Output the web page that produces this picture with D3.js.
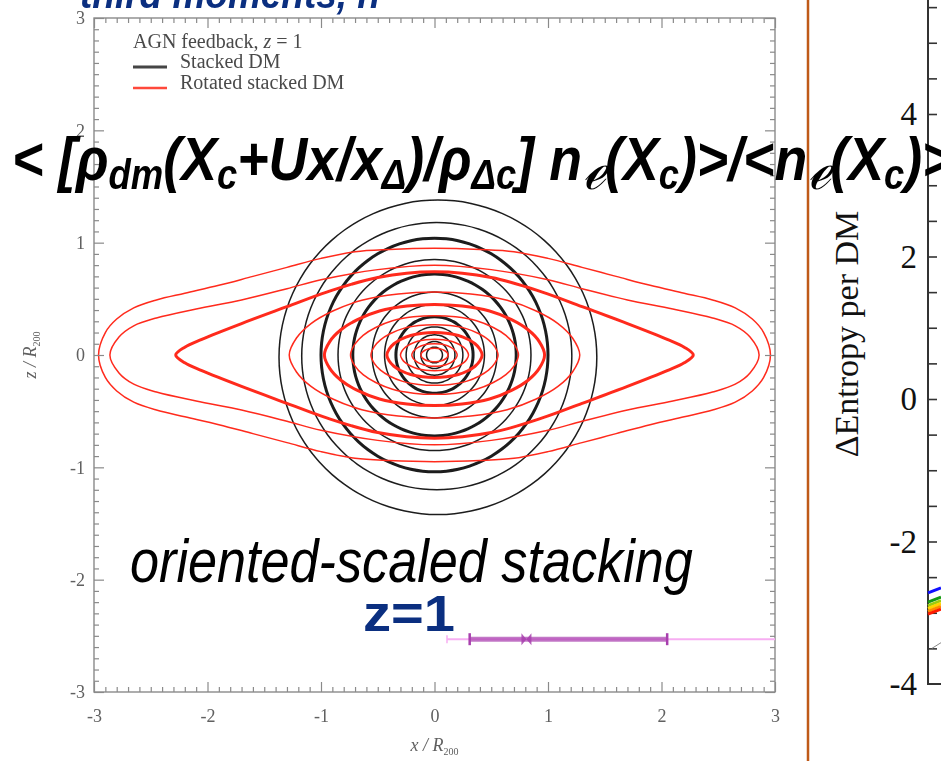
<!DOCTYPE html>
<html>
<head>
<meta charset="utf-8">
<script src="https://cdn.jsdelivr.net/npm/d3@7"></script>
<style>
  html, body { margin: 0; padding: 0; background: #fff; }
  svg { display: block; }
</style>
</head>
<body>
<svg id="chart" width="941" height="761"></svg>
<script>
// ---------------- data ----------------
const xTicks = [-3, -2, -1, 0, 1, 2, 3];
const zTicks = [-3, -2, -1, 0, 1, 2, 3];
const legendTitle = "AGN feedback, ";
const legendItems = ["Stacked DM", "Rotated stacked DM"];

// Stacked DM iso-density contours: [x radius, z radius, x centre, z centre] in R200
const stackedContours = [
  [1.40, 1.40, 0.03, -0.02],
  [1.19, 1.19, 0.02, -0.01],
  [1.00, 1.04, 0.00, 0.00],
  [0.85, 0.85, 0.00, 0.00],
  [0.72, 0.72, 0.00, 0.00],
  [0.55, 0.56, 0.00, 0.00],
  [0.44, 0.45, 0.00, 0.00],
  [0.34, 0.34, 0.00, 0.00],
  [0.25, 0.25, 0.00, 0.00],
  [0.18, 0.18, 0.00, 0.00],
  [0.12, 0.12, 0.00, 0.00],
  [0.07, 0.07, 0.00, 0.00]
];

// Rotated stacked DM, outer contours: half-height profile [x, z] from centre to tip
const rotatedProfile1 = [[0, 0.95], [0.4, 0.94], [0.7, 0.92], [1.0, 0.86], [1.3, 0.78], [1.6, 0.70],
  [1.9, 0.62], [2.2, 0.55], [2.45, 0.49], [2.65, 0.42], [2.8, 0.32], [2.9, 0.20], [2.96, 0]];
const rotatedProfile2 = [[0, 0.80], [0.5, 0.76], [1.0, 0.67], [1.3, 0.59], [1.7, 0.49], [2.1, 0.41],
  [2.45, 0.33], [2.65, 0.26], [2.78, 0.16], [2.86, 0]];
const rotatedProfile3 = [[0, 0.74], [0.5, 0.69], [0.95, 0.56], [1.3, 0.43], [1.7, 0.28], [2.05, 0.14],
  [2.2, 0.07], [2.28, 0]];
// Rotated stacked DM, inner contours: [tip x, half-height z]
const rotatedInner = [[1.28, 0.56], [0.97, 0.45], [0.74, 0.35], [0.56, 0.27], [0.42, 0.20],
  [0.30, 0.14], [0.20, 0.10], [0.12, 0.06]];
// normalised lens outline shared by the inner contours
const lensShape = [[0, 1], [0.25, 0.97], [0.5, 0.87], [0.7, 0.7], [0.85, 0.5], [0.95, 0.27], [1, 0]];

// spread marker: min, lower, median, upper, max (x / R200) at one z level
const spreadX = [0.11, 0.31, 0.81, 2.05, 3.0];
const spreadZ = -2.53;

// right-hand panel: ΔEntropy per DM
const entropyTicks = [-4, -2, 0, 2, 4];
const entropyRuns = [0, 1];
const entropySeries = [
  [-2.72, -2.65],
  [-2.85, -2.78],
  [-2.90, -2.83],
  [-2.94, -2.87],
  [-2.98, -2.91],
  [-3.02, -2.95]
];
const entropyFaint = [[0.3, -3.50], [1, -3.42]];

// ---------------- styles ----------------
const entropyColors = ["#1010ff", "#139a13", "#9ccc10", "#ffd400", "#ff8a00", "#ff1a00"];
const heavyStacked = new Set([2, 4, 7]);
const heavyRotatedOuter = new Set([2]);
const heavyRotatedInner = new Set([1, 4]);
const BLACK = "#1c1c1c", RED = "#ff2a1c", AXIS = "#8a8a8a", LABEL = "#606060";
const NAVY = "#0b2f80";

// ---------------- layout ----------------
const svg = d3.select("#chart");
const defs = svg.append("defs");
defs.append("filter").attr("id", "soft").attr("x", "-5%").attr("y", "-5%").attr("width", "110%").attr("height", "110%")
  .append("feGaussianBlur").attr("stdDeviation", 0.55);

const xS = d3.scaleLinear().domain([-3, 3]).range([94, 775]);
const zS = d3.scaleLinear().domain([-3, 3]).range([692, 18]);

const plot = svg.append("g").attr("filter", "url(#soft)");

// ---- contours ----
const closed = d3.line().x(d => xS(d[0])).y(d => zS(d[1])).curve(d3.curveCatmullRomClosed.alpha(0.5));

function ellipsePoints([rx, rz, cx, cz]) {
  return d3.range(0, 360, 6).map(a => {
    const t = a * Math.PI / 180;
    return [cx + rx * Math.cos(t), cz + rz * Math.sin(t)];
  });
}
function lensPoints(profile) {
  const n = profile.length;
  const upper = [];
  for (let i = n - 1; i >= 1; i--) upper.push([-profile[i][0], profile[i][1]]);
  for (let i = 0; i < n; i++) upper.push([profile[i][0], profile[i][1]]);
  const lower = [];
  for (let i = n - 2; i >= 0; i--) lower.push([profile[i][0], -profile[i][1]]);
  for (let i = 1; i < n - 1; i++) lower.push([-profile[i][0], -profile[i][1]]);
  return upper.concat(lower);
}

const cont = plot.append("g").attr("fill", "none").attr("stroke-linejoin", "round");
cont.selectAll("path.stacked").data(stackedContours).join("path")
  .attr("class", "stacked")
  .attr("d", d => closed(ellipsePoints(d)))
  .attr("stroke", BLACK)
  .attr("stroke-width", (d, i) => heavyStacked.has(i) ? 3 : 1.5);

const rotatedOuter = [rotatedProfile1, rotatedProfile2, rotatedProfile3];
cont.selectAll("path.rot-outer").data(rotatedOuter).join("path")
  .attr("class", "rot-outer")
  .attr("d", d => closed(lensPoints(d)))
  .attr("stroke", RED)
  .attr("stroke-width", (d, i) => heavyRotatedOuter.has(i) ? 3 : 1.5);

cont.selectAll("path.rot-inner").data(rotatedInner).join("path")
  .attr("class", "rot-inner")
  .attr("d", ([a, b]) => closed(lensPoints(lensShape.map(([u, v]) => [u * a, v * b]))))
  .attr("stroke", RED)
  .attr("stroke-width", (d, i) => heavyRotatedInner.has(i) ? 3 : 1.5);

// ---- frame and ticks ----
const minor = d3.range(-30, 31).filter(i => i % 10 !== 0).map(i => i / 10);
const hy = v => String(v);
function styleAxis(g) {
  g.select(".domain").remove();
  g.selectAll("line").attr("stroke", AXIS).attr("stroke-width", 1.2);
  g.attr("font-family", "Liberation Serif, serif").attr("font-size", 18);
  g.selectAll("text").attr("fill", LABEL);
}
const axes = [
  [d3.axisBottom, `translate(0,${zS(-3)})`, xS],
  [d3.axisTop, `translate(0,${zS(3)})`, xS],
  [d3.axisLeft, `translate(${xS(-3)},0)`, zS],
  [d3.axisRight, `translate(${xS(3)},0)`, zS]
];
axes.forEach(([gen, tr, sc], k) => {
  plot.append("g").attr("transform", tr)
    .call(gen(sc).tickValues(minor).tickSize(-5).tickFormat("")).call(styleAxis);
  const major = gen(sc).tickValues(k === 0 ? xTicks : zTicks).tickSize(-10)
    .tickPadding(k === 0 ? 17 : 9).tickFormat(k === 0 || k === 2 ? hy : "");
  plot.append("g").attr("transform", tr).call(major).call(styleAxis);
});
plot.append("rect")
  .attr("x", xS(-3)).attr("y", zS(3))
  .attr("width", xS(3) - xS(-3)).attr("height", zS(-3) - zS(3))
  .attr("fill", "none").attr("stroke", AXIS).attr("stroke-width", 1.4);

// axis titles
const xt = plot.append("text").attr("x", xS(0)).attr("y", 751).attr("text-anchor", "middle")
  .attr("font-family", "Liberation Serif, serif").attr("font-size", 18).attr("fill", LABEL);
xt.append("tspan").attr("font-style", "italic").text("x / R");
xt.append("tspan").attr("font-size", 10).attr("dy", 4).text("200");
const zt = plot.append("text").attr("transform", `translate(36,${zS(0)}) rotate(-90)`).attr("text-anchor", "middle")
  .attr("font-family", "Liberation Serif, serif").attr("font-size", 18).attr("fill", LABEL);
zt.append("tspan").attr("font-style", "italic").text("z / R");
zt.append("tspan").attr("font-size", 10).attr("dy", 4).text("200");

// legend
const lg = plot.append("g").attr("font-family", "Liberation Serif, serif").attr("font-size", 20).attr("fill", "#4a4a4a");
const lt = lg.append("text").attr("x", 133).attr("y", 48);
lt.append("tspan").text(legendTitle);
lt.append("tspan").attr("font-style", "italic").text("z");
lt.append("tspan").text(" = 1");
legendItems.forEach((name, i) => {
  const y = 67 + i * 21;
  lg.append("line").attr("x1", 133).attr("x2", 167).attr("y1", y).attr("y2", y)
    .attr("stroke", i === 0 ? "#444" : "#ff4a3a").attr("stroke-width", i === 0 ? 3 : 2.5);
  lg.append("text").attr("x", 180).attr("y", y + 1).text(name);
});

// ---- spread marker ----
const sp = svg.append("g").attr("transform", `translate(0,${zS(spreadZ)})`);
sp.append("line").attr("x1", xS(spreadX[0])).attr("x2", xS(spreadX[4]))
  .attr("stroke", "#f7aef2").attr("stroke-width", 2);
sp.append("line").attr("x1", xS(spreadX[0])).attr("x2", xS(spreadX[0])).attr("y1", -4).attr("y2", 4)
  .attr("stroke", "#f7aef2").attr("stroke-width", 1.5);
sp.append("line").attr("x1", xS(spreadX[1])).attr("x2", xS(spreadX[3]))
  .attr("stroke", "#a83fae").attr("stroke-opacity", 0.7).attr("stroke-width", 5);
[spreadX[1], spreadX[3]].forEach(v => sp.append("line").attr("x1", xS(v)).attr("x2", xS(v))
  .attr("y1", -6).attr("y2", 6).attr("stroke", "#a83fae").attr("stroke-width", 2.5));
sp.append("path")
  .attr("d", `M${xS(spreadX[2]) - 5},-6 L${xS(spreadX[2]) + 5},6 L${xS(spreadX[2]) + 5},-6 L${xS(spreadX[2]) - 5},6 Z`)
  .attr("fill", "#a83fae").attr("fill-opacity", 0.85);

// ---------------- right-hand panel ----------------
svg.append("line").attr("x1", 808).attr("x2", 808).attr("y1", 0).attr("y2", 761)
  .attr("stroke", "#bf5a18").attr("stroke-width", 2.5);

const eS = d3.scaleLinear().domain([-4, 4]).range([684, 114]);
const rX = d3.scaleLinear().domain([0, 1]).range([928, 941]);
const right = svg.append("g");
const eMinor = d3.range(-7, 12).map(i => i / 2).filter(v => v > -4 && !entropyTicks.includes(v));
right.append("g").attr("transform", `translate(${rX(0)},0)`)
  .call(d3.axisLeft(eS).tickValues(eMinor.concat(entropyTicks.filter(v => v > -4))).tickSize(-9).tickFormat(""))
  .call(g => { g.select(".domain").remove(); g.selectAll("line").attr("stroke", "#333").attr("stroke-width", 1.6); });
right.append("g").attr("transform", `translate(${rX(0)},0)`)
  .call(d3.axisLeft(eS).tickValues(entropyTicks).tickSize(0).tickPadding(11).tickFormat(hy))
  .call(g => {
    g.select(".domain").remove();
    g.attr("font-family", "Liberation Serif, serif").attr("font-size", 33);
    g.selectAll("text").attr("fill", "#111");
  });
right.append("path")
  .attr("d", `M${rX(0)},0 L${rX(0)},${eS(-4)} L${rX(1) + 2},${eS(-4)}`)
  .attr("fill", "none").attr("stroke", "#333").attr("stroke-width", 2);

const eLine = d3.line().x(d => rX(d[0])).y(d => eS(d[1]));
right.selectAll("path.series").data(entropySeries).join("path")
  .attr("class", "series")
  .attr("d", vals => eLine(vals.map((v, i) => [entropyRuns[i], v])))
  .attr("fill", "none").attr("stroke", (d, i) => entropyColors[i]).attr("stroke-width", 3);
right.append("path").attr("d", eLine(entropyFaint)).attr("fill", "none")
  .attr("stroke", "#888").attr("stroke-width", 1);

right.append("text").attr("transform", `translate(858,334) rotate(-90)`).attr("text-anchor", "middle")
  .attr("font-family", "Liberation Serif, serif").attr("font-size", 34).attr("fill", "#111")
  .text("ΔEntropy per DM");

// ---------------- slide annotations ----------------
function fitText(sel, x0, baseline, width) {
  const bb = sel.node().getBBox();
  const sx = width / bb.width;
  sel.attr("transform", `translate(${x0 - bb.x * sx},${baseline}) scale(${sx},1)`);
}
function richText(parts, size, subScale, subDy) {
  const t = svg.append("text").attr("font-family", "Liberation Sans, Arial, sans-serif")
    .attr("font-weight", "bold").attr("font-style", "italic").attr("font-size", size).attr("fill", "#000");
  let shift = 0;
  parts.forEach(([s, kind]) => {
    const ts = t.append("tspan").text(s);
    const target = kind === "n" ? 0 : subDy;
    ts.attr("dy", target - shift);
    shift = target;
    if (kind === "sub") ts.attr("font-size", size * subScale);
    if (kind === "scr") ts.attr("font-size", size * 0.95).attr("font-weight", "normal")
      .attr("font-style", "italic").attr("font-family", "DejaVu Serif, serif");
  });
  return t;
}

const formulaParts = [["< [", "n"], ["ρ", "n"], ["dm", "sub"], ["(X", "n"], ["c", "sub"], ["+Ux/x", "n"],
  ["Δ", "sub"], [")/ρ", "n"], ["Δc", "sub"], ["] n", "n"], ["ℯ", "scr"], ["(X", "n"], ["c", "sub"],
  [")>/<n", "n"], ["ℯ", "scr"], ["(X", "n"], ["c", "sub"], [")>", "n"]];
fitText(richText(formulaParts, 62, 0.68, 9), 12, 180, 942);

const headNote = svg.append("text").attr("font-family", "Liberation Sans, Arial, sans-serif")
  .attr("font-weight", "bold").attr("font-style", "italic").attr("font-size", 40).attr("fill", NAVY)
  .text("third moments, n");
fitText(headNote, 80, 8, 300);

const stackNote = svg.append("text").attr("font-family", "Liberation Sans, Arial, sans-serif")
  .attr("font-style", "italic").attr("font-size", 62).attr("fill", "#000")
  .text("oriented-scaled stacking");
fitText(stackNote, 130, 582, 563);

const zNote = svg.append("text").attr("font-family", "Liberation Sans, Arial, sans-serif")
  .attr("font-weight", "bold").attr("font-size", 50).attr("fill", NAVY).text("z=1");
fitText(zNote, 363, 631, 92);
</script>
</body>
</html>
